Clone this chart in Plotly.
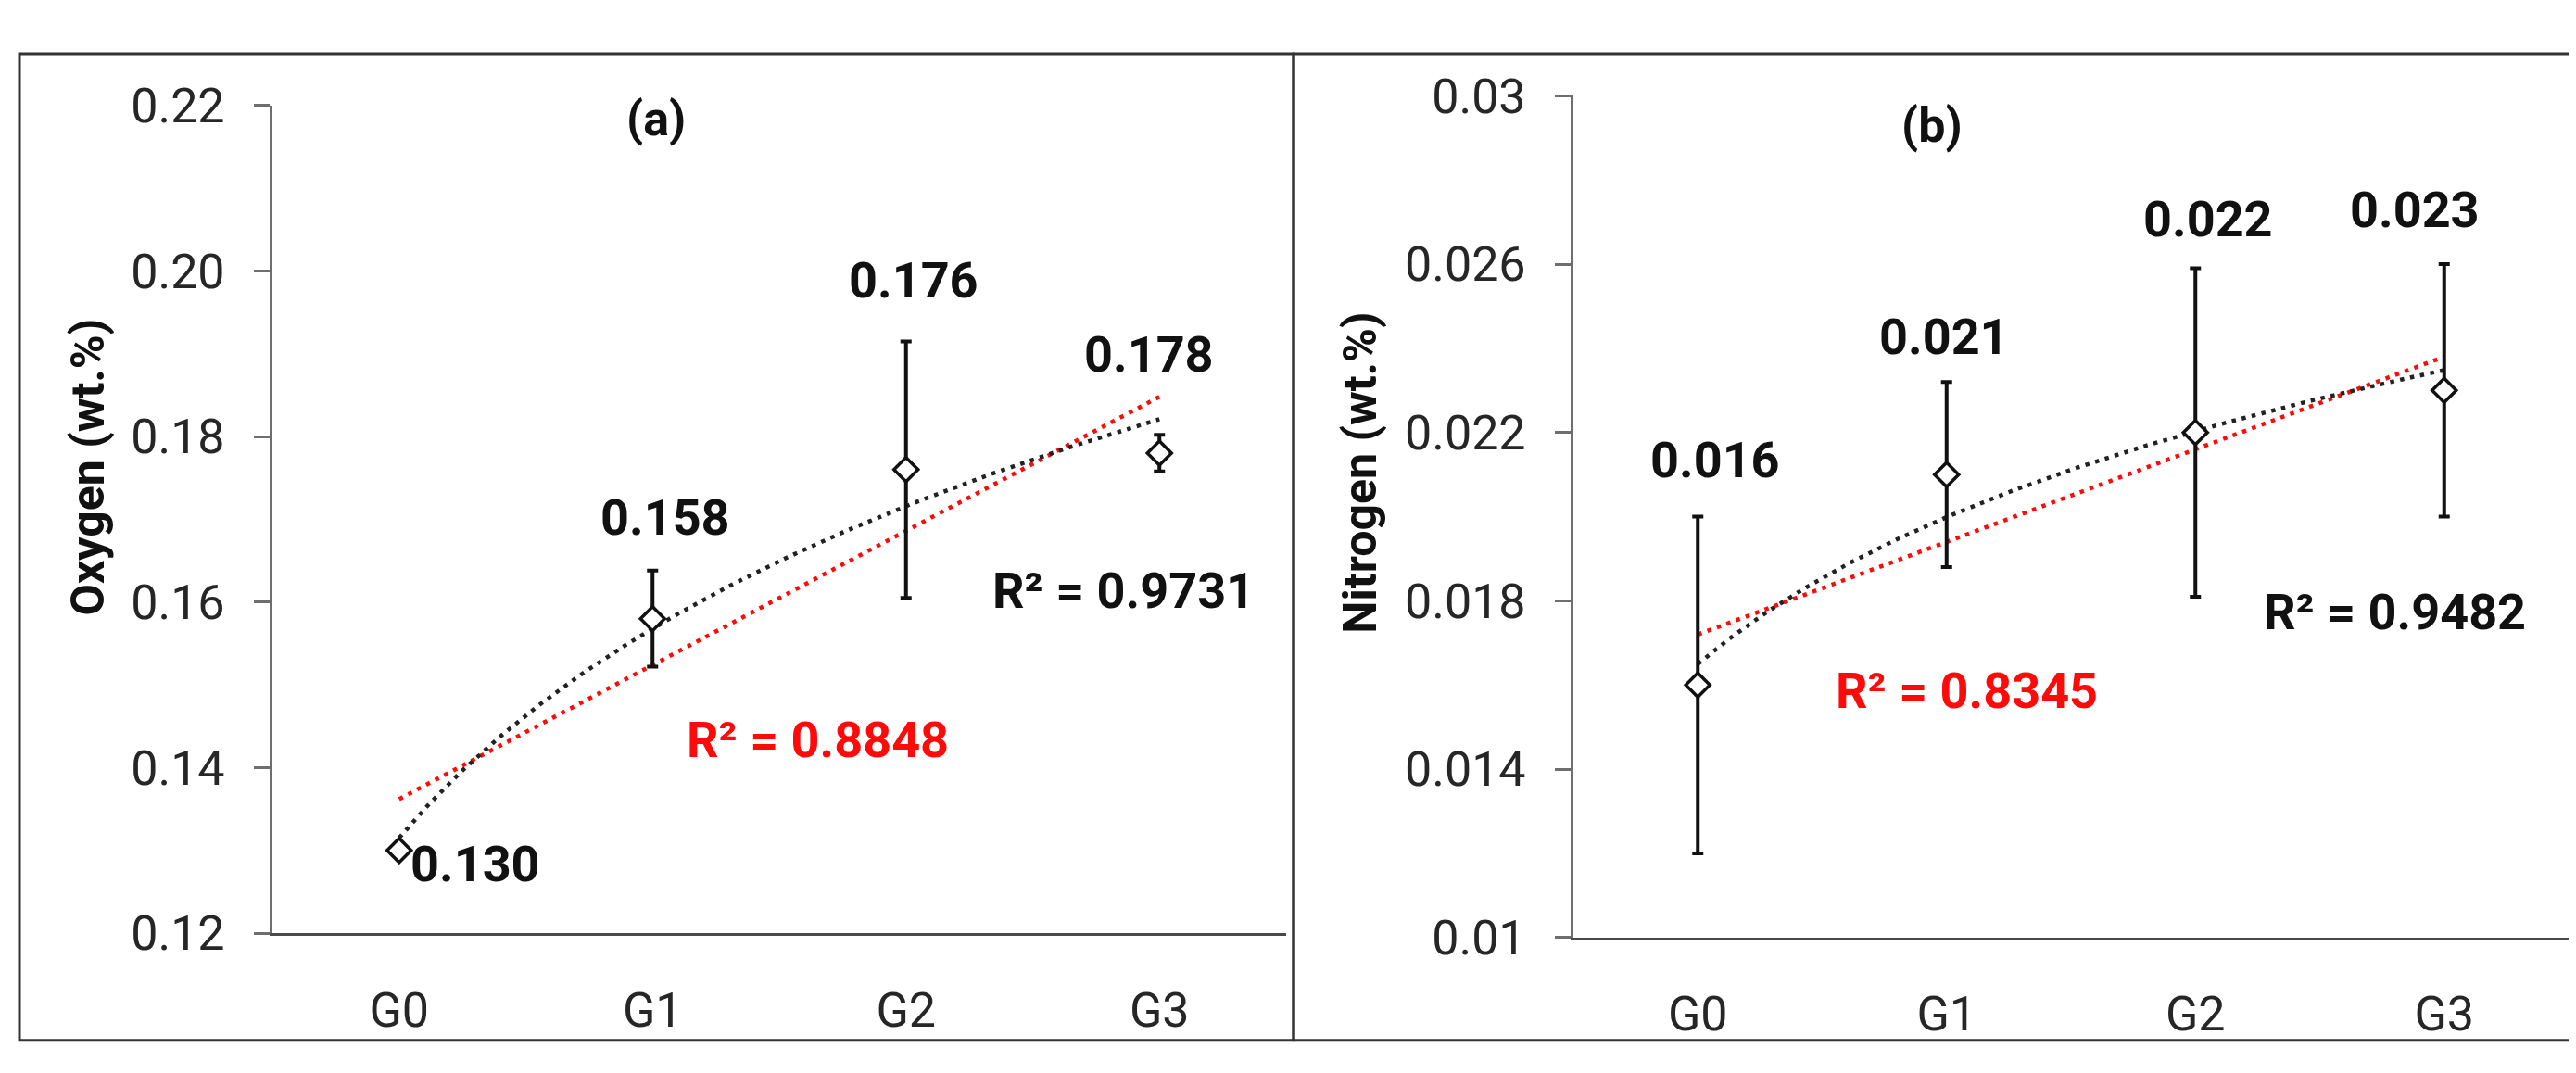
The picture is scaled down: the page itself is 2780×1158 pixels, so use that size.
import numpy as np
import plotly.graph_objects as go

# data
groups = ["G0", "G1", "G2", "G3"]
oxygen = [0.130, 0.158, 0.176, 0.178]
oxygen_err = [0.0, 0.0058, 0.0155, 0.0022]
nitrogen = [0.016, 0.021, 0.022, 0.023]
nitrogen_err = [0.004, 0.0022, 0.0039, 0.003]
oxygen_labels = ["0.130", "0.158", "0.176", "0.178"]
nitrogen_labels = ["0.016", "0.021", "0.022", "0.023"]
oxygen_r2 = ["R² = 0.9731", "R² = 0.8848"]      # log fit, linear fit
nitrogen_r2 = ["R² = 0.9482", "R² = 0.8345"]

W, H = 2780, 1158
FONT = "Roboto"
RED = "#ff0a0a"


def fits(y):
    # excel style trendlines: linear and logarithmic on x = 1..n
    n = np.arange(1, len(y) + 1)
    lin = np.polyfit(n, y, 1)
    lg = np.polyfit(np.log(n), y, 1)
    xs = np.linspace(1, len(y), 200)
    return xs - 1, np.polyval(lin, xs), np.polyval(lg, np.log(xs))


def add_panel(fig, y, err, xa, ya):
    xs, ylin, ylog = fits(y)
    fig.add_trace(go.Scatter(x=xs, y=ylin, mode="lines", xaxis=xa, yaxis=ya,
                             line=dict(color=RED, width=4.5, dash="4.5px,6.5px"),
                             hoverinfo="skip", showlegend=False))
    fig.add_trace(go.Scatter(x=xs, y=ylog, mode="lines", xaxis=xa, yaxis=ya,
                             line=dict(color="#222222", width=4.5, dash="4.5px,6.5px"),
                             hoverinfo="skip", showlegend=False))
    fig.add_trace(go.Scatter(
        x=list(range(len(y))), y=y, mode="markers", xaxis=xa, yaxis=ya,
        marker=dict(symbol="diamond", size=20, color="white",
                    line=dict(color="#111111", width=3.5)),
        error_y=dict(type="data", array=err, visible=True,
                     color="#111111", thickness=4, width=6),
        showlegend=False))


fig = go.Figure()
add_panel(fig, oxygen, oxygen_err, "x", "y")
add_panel(fig, nitrogen, nitrogen_err, "x2", "y2")

xcommon = dict(range=[-0.5, 3.5], tickvals=list(range(len(groups))), ticktext=groups,
               showline=True, linecolor="#4a4a4a", linewidth=3, ticks="",
               showgrid=False, zeroline=False, ticklabelstandoff=35,
               tickfont=dict(family=FONT, size=52, color="#262626"))
ycommon = dict(showline=True, linecolor="#6e6e6e", linewidth=3, ticks="outside",
               ticklen=17, tickwidth=3, tickcolor="#6e6e6e",
               showgrid=False, zeroline=False, ticklabelstandoff=21,
               tickfont=dict(family=FONT, size=52, color="#262626"))

fig.update_layout(
    width=W, height=H,
    margin=dict(l=0, r=0, t=0, b=0),
    paper_bgcolor="white", plot_bgcolor="white",
    font=dict(family=FONT),
    xaxis=dict(xcommon, domain=[286 / W, 1380 / W], anchor="y"),
    yaxis=dict(ycommon, domain=[1 - 1023 / H, 1 - 80 / H], anchor="x",
               range=[0.12, 0.22], tick0=0.12, dtick=0.02, tickformat=".2f"),
    xaxis2=dict(xcommon, domain=[1690 / W, 2764 / W], anchor="y2"),
    yaxis2=dict(ycommon, domain=[1 - 1028 / H, 1 - 69 / H], anchor="x2",
                range=[0.01, 0.03], tick0=0.01, dtick=0.004),
)

# panel frames
for x0, x1 in [(13, 1388), (1388, 2767)]:
    fig.add_shape(type="rect", xref="paper", yref="paper",
                  x0=x0 / W, x1=x1 / W, y0=1 - 1145 / H, y1=1 - 21 / H,
                  line=dict(color="#333333", width=3))

bold = dict(family=FONT, size=54, color="#111111", weight="bold")


def label(txt, x, y, xr, yr, color="#111111", size=54, angle=0):
    fig.add_annotation(text=txt, x=x, y=y, xref=xr, yref=yr, showarrow=False,
                       xanchor="center", yanchor="middle", textangle=angle,
                       font=dict(bold, color=color, size=size))


# value labels (positions in axis units)
pos_a = [(0.30, 0.1283), (1.05, 0.1702), (2.03, 0.1989), (2.96, 0.1899)]
for t, (x, y) in zip(oxygen_labels, pos_a):
    label(t, x, y, "x", "y")
pos_b = [(0.07, 0.02134), (0.99, 0.02428), (2.05, 0.02707), (2.88, 0.02728)]
for t, (x, y) in zip(nitrogen_labels, pos_b):
    label(t, x, y, "x2", "y2")

label(oxygen_r2[0], 2.86, 0.1614, "x", "y")
label(oxygen_r2[1], 1.65, 0.1433, "x", "y", color=RED)
label(nitrogen_r2[0], 2.80, 0.01773, "x2", "y2")
label(nitrogen_r2[1], 1.08, 0.01586, "x2", "y2", color=RED)

label("(a)", 1.015, 0.2184, "x", "y", size=52)
label("(b)", 0.94, 0.0293, "x2", "y2", size=52)

# axis titles
label("Oxygen (wt.%)", 87.5 / W, 1 - 492 / H, "paper", "paper", size=50, angle=-90)
label("Nitrogen (wt.%)", 1460 / W, 1 - 498 / H, "paper", "paper", size=50, angle=-90)

fig.write_html("out.html")
